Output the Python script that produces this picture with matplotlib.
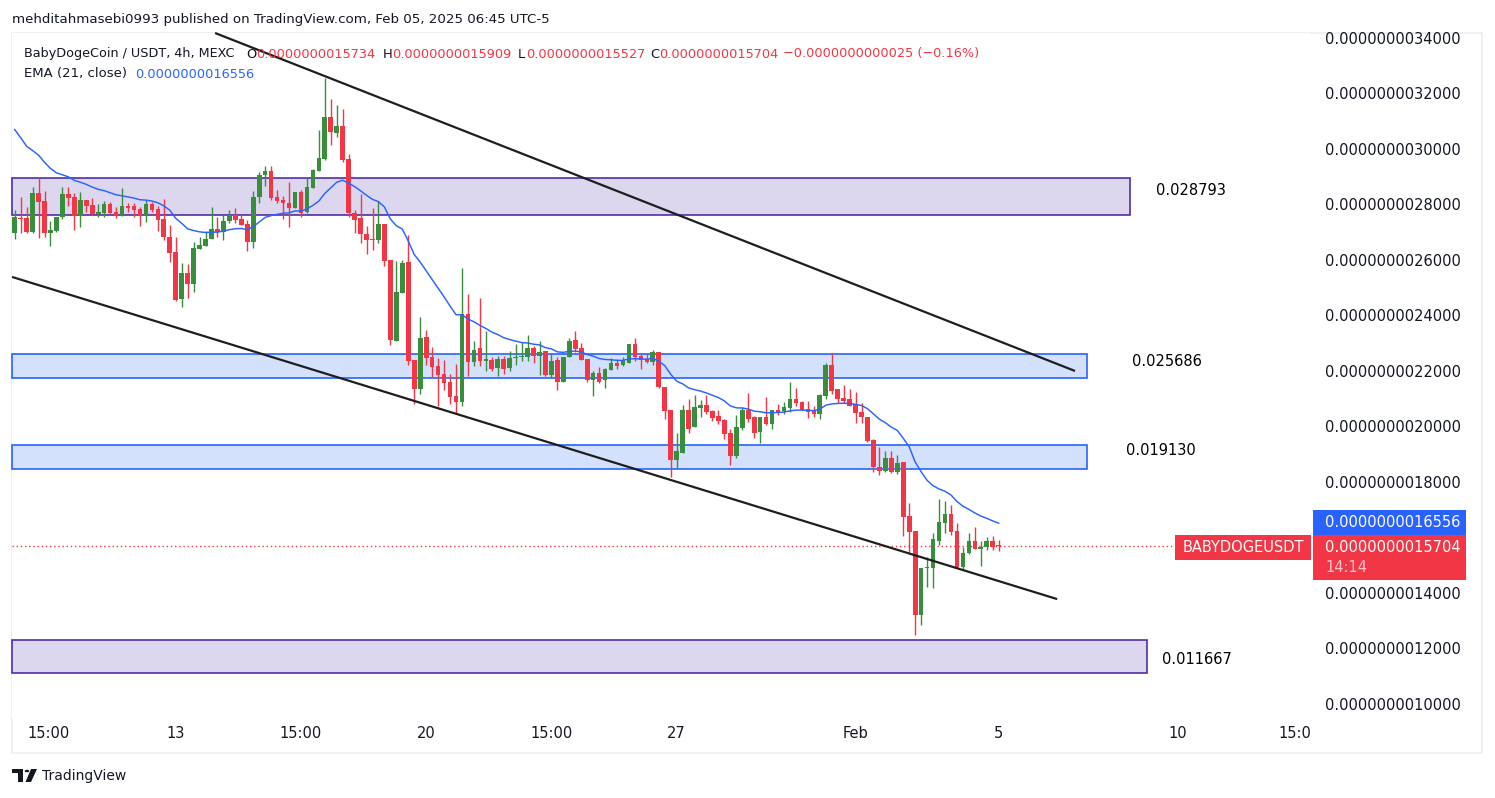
import numpy as np
import matplotlib
matplotlib.use("Agg")
import matplotlib.pyplot as plt
from matplotlib.patches import Rectangle, Polygon, Circle

# ---------------- data (prices in units of 1e-9 USDT) ----------------
OPEN = [2.697, 2.752, 2.751, 2.701, 2.841, 2.812, 2.697, 2.705, 2.755, 2.838,
        2.827, 2.759, 2.816, 2.798, 2.766, 2.769, 2.802, 2.773, 2.759, 2.795,
        2.795, 2.784, 2.759, 2.802, 2.784, 2.748, 2.683, 2.629, 2.459, 2.553,
        2.514, 2.640, 2.650, 2.676, 2.712, 2.701, 2.741, 2.762, 2.748, 2.730,
        2.665, 2.827, 2.906, 2.921, 2.827, 2.816, 2.805, 2.787, 2.845, 2.773,
        2.859, 2.921, 2.964, 3.115, 3.058, 3.083, 2.964, 2.769, 2.751, 2.694,
        2.676, 2.672, 2.730, 2.600, 2.308, 2.481, 2.593, 2.240, 2.135, 2.323,
        2.250, 2.218, 2.189, 2.160, 2.110, 2.088, 2.405, 2.232, 2.283, 2.236,
        2.240, 2.211, 2.243, 2.211, 2.247, 2.250, 2.250, 2.283, 2.254, 2.272,
        2.185, 2.240, 2.160, 2.250, 2.312, 2.283, 2.243, 2.167, 2.193, 2.167,
        2.204, 2.229, 2.222, 2.229, 2.297, 2.254, 2.243, 2.232, 2.268, 2.142,
        2.059, 1.879, 1.905, 2.059, 1.998, 2.067, 2.077, 2.056, 2.038, 2.023,
        1.977, 1.894, 1.995, 2.059, 2.034, 1.980, 2.034, 2.009, 2.059, 2.056,
        2.067, 2.099, 2.088, 2.063, 2.056, 2.045, 2.110, 2.222, 2.135, 2.103,
        2.099, 2.081, 2.052, 2.034, 1.951, 1.854, 1.840, 1.887, 1.836, 1.872,
        1.677, 1.623, 1.321, 1.490, 1.490, 1.587, 1.652, 1.685, 1.623, 1.494,
        1.544, 1.587, 1.559, 1.566, 1.587, 1.5734]
HIGH = [2.780, 2.827, 2.791, 2.863, 2.899, 2.849, 2.741, 2.755, 2.863, 2.863,
        2.841, 2.845, 2.816, 2.823, 2.802, 2.813, 2.809, 2.791, 2.859, 2.805,
        2.805, 2.791, 2.816, 2.809, 2.795, 2.820, 2.726, 2.683, 2.589, 2.586,
        2.665, 2.683, 2.705, 2.791, 2.755, 2.766, 2.780, 2.787, 2.766, 2.744,
        2.849, 2.917, 2.939, 2.939, 2.852, 2.831, 2.881, 2.845, 2.852, 2.895,
        2.928, 3.068, 3.256, 3.180, 3.158, 3.144, 2.982, 2.780, 2.838, 2.723,
        2.787, 2.813, 2.730, 2.600, 2.596, 2.600, 2.690, 2.240, 2.395, 2.348,
        2.286, 2.247, 2.240, 2.189, 2.225, 2.571, 2.477, 2.308, 2.463, 2.344,
        2.250, 2.254, 2.254, 2.272, 2.297, 2.305, 2.330, 2.290, 2.308, 2.272,
        2.265, 2.250, 2.250, 2.319, 2.344, 2.301, 2.243, 2.200, 2.214, 2.211,
        2.247, 2.243, 2.250, 2.297, 2.319, 2.265, 2.261, 2.276, 2.268, 2.142,
        2.059, 1.977, 2.077, 2.099, 2.113, 2.095, 2.113, 2.059, 2.059, 2.027,
        1.991, 2.041, 2.070, 2.121, 2.038, 2.034, 2.106, 2.059, 2.081, 2.088,
        2.160, 2.139, 2.092, 2.092, 2.074, 2.117, 2.229, 2.265, 2.135, 2.150,
        2.135, 2.124, 2.085, 2.034, 1.955, 1.926, 1.912, 1.912, 1.897, 1.872,
        1.724, 1.623, 1.490, 1.530, 1.616, 1.739, 1.732, 1.717, 1.652, 1.566,
        1.616, 1.638, 1.587, 1.602, 1.605, 1.5909]
LOW = [2.676, 2.697, 2.697, 2.697, 2.679, 2.683, 2.651, 2.701, 2.748, 2.795,
       2.708, 2.719, 2.773, 2.762, 2.755, 2.755, 2.769, 2.751, 2.759, 2.773,
       2.755, 2.723, 2.737, 2.773, 2.705, 2.672, 2.593, 2.452, 2.430, 2.463,
       2.485, 2.640, 2.650, 2.676, 2.683, 2.672, 2.733, 2.733, 2.726, 2.632,
       2.643, 2.805, 2.867, 2.816, 2.805, 2.748, 2.719, 2.787, 2.755, 2.769,
       2.859, 2.921, 2.960, 3.014, 3.043, 2.953, 2.755, 2.697, 2.661, 2.622,
       2.636, 2.661, 2.578, 2.294, 2.308, 2.481, 2.222, 2.081, 2.117, 2.222,
       2.178, 2.074, 2.131, 2.081, 2.049, 2.074, 2.182, 2.218, 2.218, 2.200,
       2.200, 2.182, 2.189, 2.200, 2.222, 2.236, 2.236, 2.229, 2.185, 2.182,
       2.175, 2.131, 2.160, 2.250, 2.268, 2.240, 2.160, 2.110, 2.157, 2.139,
       2.204, 2.207, 2.218, 2.229, 2.236, 2.207, 2.229, 2.222, 2.139, 2.027,
       1.818, 1.850, 1.905, 1.977, 1.998, 2.034, 2.045, 2.020, 2.009, 1.955,
       1.861, 1.886, 1.987, 2.016, 1.959, 1.941, 2.005, 1.991, 2.041, 2.045,
       2.052, 2.074, 2.059, 2.031, 2.034, 2.027, 2.099, 2.117, 2.085, 2.085,
       2.074, 2.013, 2.013, 1.944, 1.836, 1.825, 1.836, 1.832, 1.829, 1.605,
       1.544, 1.249, 1.285, 1.422, 1.418, 1.573, 1.616, 1.609, 1.490, 1.487,
       1.541, 1.559, 1.497, 1.555, 1.555, 1.5527]
CLOSE = [2.755, 2.748, 2.701, 2.841, 2.809, 2.697, 2.708, 2.755, 2.838, 2.823,
         2.759, 2.816, 2.795, 2.766, 2.773, 2.802, 2.769, 2.759, 2.795, 2.787,
         2.780, 2.759, 2.802, 2.780, 2.744, 2.683, 2.625, 2.456, 2.553, 2.514,
         2.643, 2.654, 2.676, 2.712, 2.701, 2.741, 2.762, 2.744, 2.726, 2.665,
         2.827, 2.906, 2.921, 2.823, 2.813, 2.805, 2.787, 2.845, 2.769, 2.863,
         2.924, 2.968, 3.115, 3.061, 3.083, 2.960, 2.769, 2.744, 2.694, 2.672,
         2.672, 2.730, 2.596, 2.312, 2.485, 2.589, 2.236, 2.135, 2.319, 2.247,
         2.214, 2.185, 2.157, 2.106, 2.088, 2.405, 2.232, 2.276, 2.236, 2.243,
         2.207, 2.243, 2.207, 2.247, 2.250, 2.254, 2.283, 2.254, 2.268, 2.185,
         2.236, 2.160, 2.250, 2.308, 2.279, 2.240, 2.167, 2.193, 2.160, 2.207,
         2.229, 2.218, 2.236, 2.297, 2.250, 2.240, 2.232, 2.268, 2.142, 2.056,
         1.879, 1.912, 2.059, 1.991, 2.070, 2.077, 2.052, 2.031, 2.020, 1.973,
         1.894, 1.998, 2.059, 2.027, 1.977, 2.034, 2.009, 2.059, 2.052, 2.070,
         2.099, 2.085, 2.059, 2.052, 2.045, 2.113, 2.222, 2.128, 2.099, 2.092,
         2.074, 2.049, 2.034, 1.948, 1.854, 1.840, 1.887, 1.836, 1.868, 1.674,
         1.620, 1.321, 1.490, 1.494, 1.595, 1.656, 1.685, 1.620, 1.494, 1.544,
         1.587, 1.559, 1.566, 1.587, 1.566, 1.5704]

EMA_PERIOD = 21
EMA_START = 3.07          # EMA value at the first visible bar

X_TICK_POS = [5.75, 27, 48, 69, 90, 111, 141, 165, 195, 214.7]
X_TICK_LABELS = ["15:00", "13", "15:00", "20", "15:00", "27", "Feb", "5", "10", "15:0"]
Y_TICKS = [1.0, 1.2, 1.4, 1.6, 1.8, 2.0, 2.2, 2.4, 2.6, 2.8, 3.0, 3.2, 3.4]

ZONE_LOW = [2.762, 2.175, 1.847, 1.112]
ZONE_HIGH = [2.895, 2.261, 1.933, 1.231]
ZONE_END = [187.0, 179.8, 179.8, 189.9]
ZONE_KIND = ["purple", "blue", "blue", "purple"]
ZONE_LABELS = ["0.028793", "0.025686", "0.019130", "0.011667"]
ZONE_LABEL_X = [191.4, 187.4, 186.4, 192.4]
ZONE_LABEL_Y = [2.851, 2.236, 1.912, 1.159]

UPPER_X = [33.6, 177.8]
UPPER_Y = [3.418, 2.200]
LOWER_X = [-0.45, 174.8]
LOWER_Y = [2.539, 1.378]

LAST_PRICE = 1.5704

# ---------------- figure ----------------
W, H = 1495, 798
fig = plt.figure(figsize=(W / 100, H / 100), dpi=100)
fig.patch.set_facecolor("white")


def fx(x):
    return x / W


def fy(y):
    return 1 - y / H


TXT = "#131722"
RED = "#f23645"
GREEN = "#388e3c"
BLUE = "#2962ff"

ax = fig.add_axes([fx(12), fy(718), (1310 - 12) / W, (718 - 33) / H])
ax.set_facecolor("white")
for s in ax.spines.values():
    s.set_visible(False)

XL = (-0.453, 217.2)
ax.set_xlim(*XL)
ax.set_ylim(0.9495, 3.418)

o = np.array(OPEN); h = np.array(HIGH); l = np.array(LOW); c = np.array(CLOSE)
idx = np.arange(len(o))
up = c >= o
cols = np.where(up, GREEN, RED)

# zones
for lo, hi, end, kind in zip(ZONE_LOW, ZONE_HIGH, ZONE_END, ZONE_KIND):
    if kind == "purple":
        fc, ec = "#dcd7ee", "#512da8"
    else:
        fc, ec = "#d4e1fd", "#2962ff"
    ax.add_patch(Rectangle((XL[0], lo), end - XL[0], hi - lo, facecolor=fc,
                           edgecolor=ec, linewidth=1.2, zorder=1, clip_on=False))
for t, x, y in zip(ZONE_LABELS, ZONE_LABEL_X, ZONE_LABEL_Y):
    ax.text(x, y, t, fontsize=10.5, color="black", ha="left", va="center", zorder=5)

# candles
ax.vlines(idx, l, h, colors=cols, linewidth=1.0, zorder=3)
body_lo = np.minimum(o, c)
body_h = np.maximum(np.abs(c - o), 0.004)
ax.bar(idx, body_h, bottom=body_lo, width=0.78, color=cols, linewidth=0, zorder=4)

# EMA
ema = np.empty(len(c))
alpha = 2 / (EMA_PERIOD + 1)
ema[0] = EMA_START
for i in range(1, len(c)):
    ema[i] = ema[i - 1] + alpha * (c[i] - ema[i - 1])
ax.plot(idx, ema, color=BLUE, linewidth=1.05, zorder=5)

# trend lines
ax.plot(UPPER_X, UPPER_Y, color="#1e1e1e", linewidth=1.6, zorder=6, clip_on=False,
        solid_capstyle="butt")
ax.plot(LOWER_X, LOWER_Y, color="#1e1e1e", linewidth=1.6, zorder=6,
        solid_capstyle="butt")

# last price dotted line
ax.hlines(LAST_PRICE, XL[0], 194.6, colors=RED, linestyles=(0, (1, 2)), linewidth=1.0, zorder=2)

# axes ticks
ax.yaxis.tick_right()
ax.set_yticks(Y_TICKS)
ax.set_yticklabels(["" if abs(v - 1.6) < 1e-9 else f"{v * 1e-9:.13f}" for v in Y_TICKS])
ax.tick_params(axis="y", length=0, pad=11, labelsize=10.5, labelcolor=TXT)
ax.set_xticks(X_TICK_POS)
ax.set_xticklabels(X_TICK_LABELS)
ax.tick_params(axis="x", length=0, pad=5.5, labelsize=10.5, labelcolor=TXT)

# panel border
fig.add_artist(Rectangle((fx(12), fy(753)), (1482 - 12) / W, (753 - 33) / H,
                         transform=fig.transFigure, fill=False, edgecolor="#eceef2",
                         linewidth=1.2, zorder=0))

# price tags
def tag(x0, y0, x1, y1, color):
    fig.add_artist(Rectangle((fx(x0), fy(y1)), (x1 - x0) / W, (y1 - y0) / H,
                             transform=fig.transFigure, facecolor=color,
                             edgecolor="none", zorder=10))


tag(1313, 510, 1466, 535, BLUE)
tag(1313, 535, 1466, 580, RED)
tag(1175, 535, 1311, 560, RED)
fig.text(fx(1325), fy(522.5), "0.0000000016556", color="white", fontsize=10.5,
         va="center", ha="left", zorder=11)
fig.text(fx(1325), fy(547), "0.0000000015704", color="white", fontsize=10.5,
         va="center", ha="left", zorder=11)
fig.text(fx(1325), fy(568), "14:14", color="#fcc6cb", fontsize=10.5,
         va="center", ha="left", zorder=11)
fig.text(fx(1243), fy(547.5), "BABYDOGEUSDT", color="white", fontsize=10.5,
         va="center", ha="center", zorder=11)

# header
fig.text(fx(12), fy(19), "mehditahmasebi0993 published on TradingView.com, Feb 05, 2025 06:45 UTC-5",
         color=TXT, fontsize=9.6, va="center", ha="left")

# legend
LY1, LY2 = 54, 74
FS = 9.2
fig.text(fx(24), fy(LY1), "BabyDogeCoin / USDT, 4h, MEXC", color=TXT, fontsize=FS, va="center")
for letter, lx, val, vx in [("O", 246, "0.0000000015734", 256),
                            ("H", 383, "0.0000000015909", 392),
                            ("L", 518, "0.0000000015527", 526),
                            ("C", 650, "0.0000000015704", 659)]:
    fig.text(fx(lx), fy(LY1), letter, color=TXT, fontsize=9.4, va="center")
    fig.text(fx(vx), fy(LY1), val, color=RED, fontsize=9.3, va="center")
fig.text(fx(783), fy(LY1), "\u22120.0000000000025 (\u22120.16%)", color=RED, fontsize=9.3, va="center")
fig.text(fx(24), fy(LY2), "EMA (21, close)", color=TXT, fontsize=9.5, va="center")
fig.text(fx(135), fy(LY2), "0.0000000016556", color=BLUE, fontsize=9.3, va="center")

# TradingView logo + text
fig.add_artist(Polygon([(fx(12), fy(769)), (fx(23), fy(769)), (fx(23), fy(782)),
                        (fx(18), fy(782)), (fx(18), fy(773)), (fx(12), fy(773))],
                       closed=True, transform=fig.transFigure, facecolor=TXT, edgecolor="none"))
fig.add_artist(Circle((fx(27), fy(771)), 2.3 / W, transform=fig.transFigure,
                      facecolor=TXT, edgecolor="none"))
fig.add_artist(Polygon([(fx(31), fy(769)), (fx(37), fy(769)), (fx(31), fy(782)), (fx(25.5), fy(782))],
                       closed=True, transform=fig.transFigure, facecolor=TXT, edgecolor="none"))
fig.text(fx(42), fy(776), "TradingView", color=TXT, fontsize=10, va="center", ha="left")

fig.savefig("out.png", dpi=100, facecolor="white")
